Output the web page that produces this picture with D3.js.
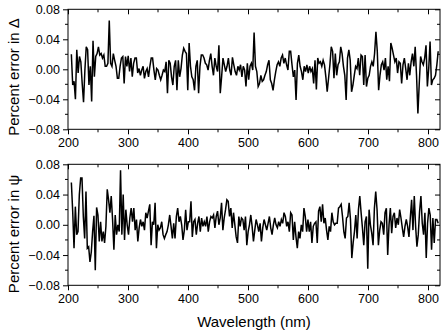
<!DOCTYPE html>
<html><head><meta charset="utf-8">
<script src="https://cdn.jsdelivr.net/npm/d3@7"></script>
<style>body{margin:0;background:#fff}svg{display:block}text{font-family:"Liberation Sans",Arial,sans-serif;fill:#000}</style>
</head><body><svg id="c" width="444" height="330"></svg>
<script>
// Data
const wavelengthStart = 205.6;
const wavelengthEnd = 817;
const xTicks = [200, 300, 400, 500, 600, 700, 800];
const yTicks = [-0.08, -0.04, 0.00, 0.04, 0.08];
const panelTitles = ["Percent error in \u0394", "Percent error in \u03C8"];
const xTitle = "Wavelength (nm)";

const errorDelta = [
0.020,-0.021,-0.016,-0.040,0.026,-0.005,0.017,0.010,-0.019,-0.044,-0.001,0.030,0.026,-0.021,0.004,-0.043,0.038,-0.010,0.017,0.021,
0.030,0.019,0.021,0.015,0.019,0.004,0.004,0.008,0.065,0.008,0.004,0.021,0.012,0.004,-0.012,-0.012,0.004,0.015,0.017,-0.019,
0.017,0.004,0.018,-0.003,0.015,-0.010,0.008,0.015,0.015,-0.005,0.001,-0.008,-0.001,0.004,-0.012,-0.003,0.001,-0.010,0.004,0.015,
0.015,-0.001,-0.014,0.001,-0.001,-0.008,-0.014,-0.008,-0.001,-0.003,0.010,-0.032,0.012,0.008,-0.010,-0.021,0.004,0.012,-0.028,0.012,
-0.010,0.001,0.019,0.028,0.024,0.021,
-0.028,0.035,0.004,-0.010,-0.014,-0.028,0.004,0.012,-0.032,0.004,0.019,0.019,0.015,0.008,0.006,-0.001,0.012,0.021,0.004,-0.008,
0.015,0.004,-0.003,0.032,-0.032,-0.010,0.015,0.006,-0.003,0.004,0.015,-0.001,-0.008,0.016,0.006,-0.003,-0.008,0.004,-0.001,0.006,
-0.010,0.004,-0.001,-0.023,0.008,-0.014,0.004,0.008,-0.001,0.049,0.004,-0.003,-0.023,-0.019,-0.008,-0.016,-0.014,-0.008,-0.003,0.006,
0.012,-0.014,-0.019,-0.028,-0.014,-0.003,0.006,0.010,0.004,0.015,0.019,0.008,0.015,0.006,-0.001,0.024,0.024,0.006,-0.010,-0.001,
-0.041,0.008,0.019,0.004,-0.003,-0.014,0.004,-0.003,0.006,
-0.005,0.004,-0.003,0.001,-0.019,0.012,-0.027,0.015,0.008,0.010,0.004,0.012,0.006,-0.010,-0.030,-0.012,0.006,0.030,0.024,-0.012,
0.021,-0.008,0.006,0.010,0.030,0.021,0.004,-0.008,-0.041,0.015,0.026,0.012,-0.030,-0.021,-0.008,0.004,0.001,0.015,-0.008,0.019,
0.017,-0.021,0.019,-0.023,-0.012,-0.008,0.004,0.010,0.004,0.021,0.050,0.024,-0.028,-0.008,0.006,0.010,-0.001,0.015,-0.014,0.004,
-0.016,0.035,0.028,0.019,0.010,0.015,-0.005,0.010,0.008,-0.019,0.006,0.015,0.001,-0.014,0.008,-0.008,0.010,0.021,0.004,0.030,
-0.008,-0.059,-0.019,0.017,0.010,0.006,0.015,0.032,-0.023,0.001,0.037,-0.021,-0.014,-0.012,-0.008,0.006,0.024
];

const errorPsi = [
0.056,0.018,-0.031,0.024,-0.013,-0.009,0.040,0.062,0.062,0.011,-0.018,0.044,-0.031,-0.029,-0.049,-0.036,-0.009,0.012,-0.060,0.023,
0.013,-0.022,0.004,-0.022,-0.009,-0.024,-0.002,0.047,0.033,0.016,0.038,0.007,-0.033,0.013,-0.013,0.000,-0.009,0.072,-0.013,0.040,
-0.020,0.020,0.000,-0.013,0.009,0.022,0.004,0.022,-0.007,0.007,-0.022,-0.004,0.007,-0.002,0.004,-0.007,0.016,0.009,0.018,0.027,
-0.027,0.004,0.000,0.029,-0.031,0.000,-0.007,-0.004,0.004,-0.013,-0.018,-0.013,-0.009,0.000,0.013,-0.002,-0.018,0.002,-0.018,0.011,
0.022,0.004,0.011,0.000,-0.020,-0.007,0.020,-0.007,0.004,
0.004,0.031,-0.016,0.004,0.007,-0.013,0.002,0.011,-0.009,0.009,-0.002,0.004,-0.002,0.011,-0.009,0.004,0.011,0.009,0.013,-0.004,
0.011,0.018,0.000,0.009,0.029,-0.007,0.009,0.020,0.033,0.031,0.011,0.022,-0.004,0.016,0.000,-0.016,-0.024,0.011,-0.002,0.009,
0.007,-0.007,0.011,-0.027,-0.009,0.000,0.013,-0.002,-0.022,-0.007,0.007,0.000,-0.009,0.002,-0.022,-0.004,0.007,0.000,-0.007,0.002,
0.011,-0.004,-0.013,0.000,0.009,0.000,-0.004,0.004,-0.002,0.007,0.002,0.016,0.011,-0.002,0.004,-0.009,0.016,0.013,-0.020,0.004,
-0.016,-0.031,-0.009,-0.018,0.000,-0.009,0.022,0.011,-0.009,0.007,
-0.009,0.004,-0.024,-0.002,0.002,0.004,-0.024,0.018,0.024,0.004,0.027,0.002,0.009,-0.007,-0.020,-0.002,-0.009,0.016,0.004,0.000,
0.002,0.002,0.022,0.024,0.027,0.011,-0.009,-0.018,0.009,0.011,0.029,0.007,-0.044,-0.024,-0.009,0.013,-0.018,0.020,0.038,0.016,
-0.004,-0.027,0.004,0.011,-0.058,0.020,0.000,-0.011,-0.027,0.022,0.044,0.020,-0.027,-0.007,0.004,0.002,-0.013,0.016,0.022,-0.040,
0.000,0.022,-0.011,0.011,0.016,-0.004,0.009,0.000,0.020,0.009,-0.004,-0.016,-0.002,0.007,-0.002,-0.016,0.009,0.033,-0.007,0.038,
-0.002,-0.029,-0.013,0.018,0.038,0.002,-0.013,0.016,-0.044,0.002,0.022,0.013,-0.033,0.009,-0.024,0.007,0.007,0.002
];

const svg = d3.select("#c");
const left = 68, right = 440;
const panels = [
  {top: 9.3, bottom: 129.3, values: errorDelta, title: panelTitles[0], titleY: 77},
  {top: 164.3, bottom: 285.3, values: errorPsi, title: panelTitles[1], titleY: 234}
];
const x = d3.scaleLinear().domain([200, 820]).range([left, right]);
const xMinor = d3.range(250, 820, 100);
const yMinor = [-0.06, -0.02, 0.02, 0.06];

panels.forEach(p => {
  const y = d3.scaleLinear().domain([-0.08, 0.08]).range([p.bottom, p.top]);
  const g = svg.append("g");
  const n = p.values.length;
  const wl = p.values.map((_, i) => wavelengthStart + i * (wavelengthEnd - wavelengthStart) / (n - 1));
  const line = d3.line().x((d, i) => x(wl[i])).y(d => y(d));
  g.append("path").datum(p.values).attr("d", line)
    .attr("fill", "none").attr("stroke", "#000").attr("stroke-width", 1.5).attr("stroke-linejoin", "miter");

  const bx = g.append("g").attr("transform", `translate(0,${p.bottom})`)
    .call(d3.axisBottom(x).tickValues(xTicks).tickFormat(d3.format("d")).tickSize(5).tickPadding(4));
  bx.append("g").selectAll("line").data(xMinor).join("line")
    .attr("x1", d => x(d)).attr("x2", d => x(d)).attr("y1", 0).attr("y2", 3).attr("stroke", "#000");
  const tx = g.append("g").attr("transform", `translate(0,${p.top})`)
    .call(d3.axisBottom(x).tickValues(xTicks).tickFormat("").tickSize(5));
  tx.append("g").selectAll("line").data(xMinor).join("line")
    .attr("x1", d => x(d)).attr("x2", d => x(d)).attr("y1", 0).attr("y2", 3).attr("stroke", "#000");
  const ly = g.append("g").attr("transform", `translate(${left},0)`)
    .call(d3.axisLeft(y).tickValues(yTicks).tickFormat(d3.format(".2f")).tickSize(5).tickPadding(3));
  ly.append("g").selectAll("line").data(yMinor).join("line")
    .attr("y1", d => y(d)).attr("y2", d => y(d)).attr("x1", 0).attr("x2", -3).attr("stroke", "#000");
  const ry = g.append("g").attr("transform", `translate(${right},0)`)
    .call(d3.axisLeft(y).tickValues(yTicks).tickFormat("").tickSize(5));
  ry.append("g").selectAll("line").data(yMinor).join("line")
    .attr("y1", d => y(d)).attr("y2", d => y(d)).attr("x1", 0).attr("x2", -3).attr("stroke", "#000");

  [bx, tx, ly, ry].forEach(a => { a.select(".domain").remove(); a.selectAll("text").style("font-size", "12.5px").attr("fill", "#000"); a.attr("font-family", null); });
  g.append("rect").attr("x", left).attr("y", p.top).attr("width", right - left).attr("height", p.bottom - p.top)
    .attr("fill", "none").attr("stroke", "#000").attr("stroke-width", 1);

  svg.append("text").attr("transform", `translate(19,${p.titleY}) rotate(-90)`)
    .attr("text-anchor", "middle").style("font-size", "15px").text(p.title);
});

svg.append("text").attr("x", (left + right) / 2).attr("y", 327).attr("text-anchor", "middle")
  .style("font-size", "15px").text(xTitle);
</script></body></html>
